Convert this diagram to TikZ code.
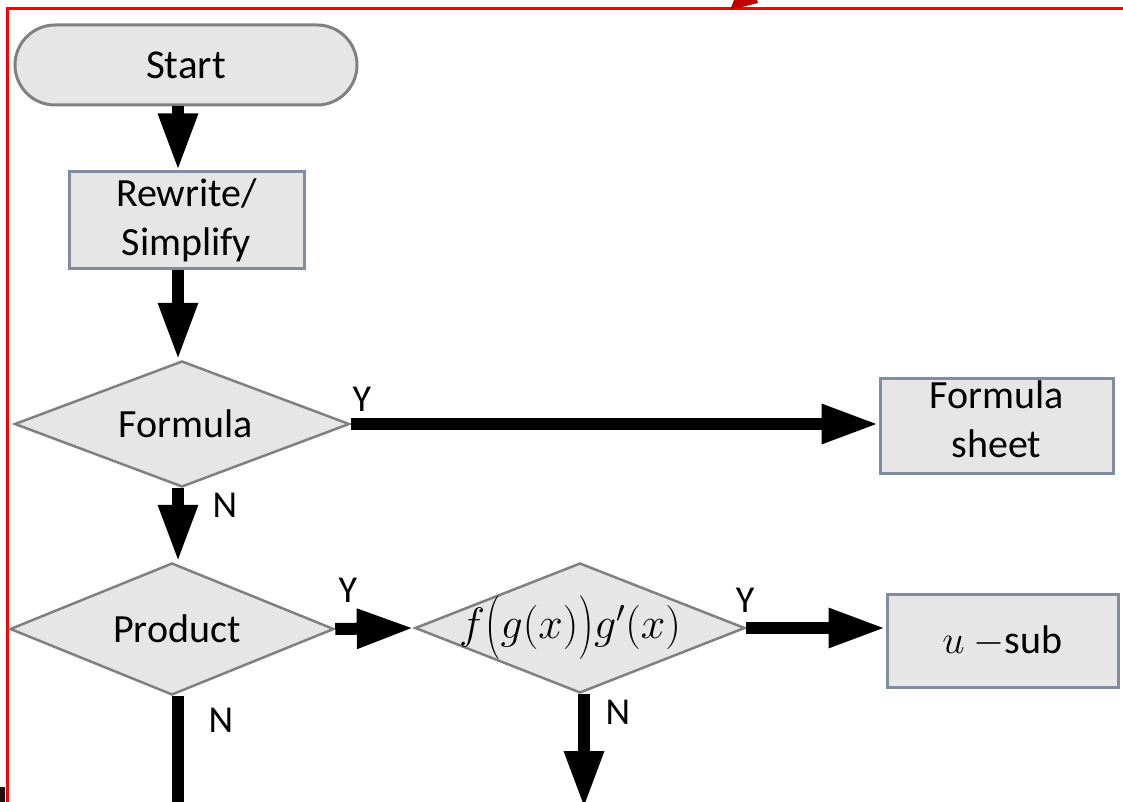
\documentclass[tikz,border=0pt]{standalone}
\usepackage{fix-cm}
\usepackage{graphicx}
\usepackage{fontspec}
\setmainfont{Carlito}
\usetikzlibrary{shapes.geometric,arrows.meta}
\definecolor{boxfill}{RGB}{230,230,230}
\definecolor{boxline}{RGB}{128,140,160}
\definecolor{dline}{RGB}{128,128,128}
\definecolor{framered}{RGB}{255,0,0}
\definecolor{darkred}{RGB}{192,0,0}
\definecolor{darkmark}{RGB}{40,15,15}
\newcommand\tallparen[1]{\raisebox{-5pt}{\scalebox{1}[1.45]{$#1$}}}
\begin{document}
\begin{tikzpicture}[x=1pt,y=-1pt,
  txt/.style={font=\fontsize{40}{49}\selectfont},
  procbox/.style={txt, align=center, rectangle, draw=boxline, fill=boxfill, line width=3pt, inner sep=0pt},
  decbox/.style={txt, diamond, draw=dline, fill=boxfill, line width=2.5pt, inner sep=0pt},
  termbox/.style={txt, rectangle, rounded corners=40pt, draw=dline, fill=boxfill, line width=3pt, inner sep=0pt},
  lbl/.style={font=\fontsize{38}{44}\selectfont, inner sep=0pt},
  flow/.style={line width=12pt, -{Triangle[length=57pt,width=37pt]}},
  plainline/.style={line width=12pt}
]
\useasboundingbox (0,0) rectangle (1123,802);
\clip (0,0) rectangle (1123,802);
\fill[white] (0,0) rectangle (1123,802);

% frame
\draw[framered, line width=3pt] (7,820) -- (7,9) -- (1130,9);
\fill[darkred] (730,10) -- (734,0) -- (757,0) -- (758,3) -- cycle;
\fill[darkmark] (0,787) rectangle (5,802);

% nodes
\node[termbox, minimum width=342pt, minimum height=80pt] (start) at (186,65) {\fontsize{41}{49}\selectfont Start};
\node[procbox, minimum width=235pt, minimum height=96pt] (rewrite) at (186.5,220) {Rewrite/\\Simplify};
\node[decbox, minimum width=335pt, minimum height=126pt] (formula) at (182,424) {\makebox[0pt]{\hspace*{8pt}Formula}};
\node[procbox, minimum width=233pt, minimum height=95pt] (sheet) at (996.5,425.5) {Formula\\[0pt]sheet\\[-37pt]\mbox{}};
\node[decbox, minimum width=324pt, minimum height=132pt] (product) at (172,629) {\makebox[0pt]{\hspace*{10pt}Product}};
\node[decbox, minimum width=330pt, minimum height=130pt] (chain) at (580,628) {\makebox[0pt]{\fontsize{44}{56}\selectfont$f\mathopen{\tallparen{(}}g(x)\mathclose{\tallparen{)}}g'(x)$\hspace*{20pt}}};
\node[procbox, minimum width=231pt, minimum height=93pt] (usub) at (1002.5,641) {$u$ $-$sub};

% connectors
\coordinate (spine) at (178,0);
\coordinate (down1) at (178,815);
\coordinate (down2) at (584,808);
\draw[flow] (start.south -| spine) -- (rewrite.north -| spine);
\draw[flow] (rewrite.south -| spine) -- (formula.north -| spine);
\draw[flow] (formula.east) -- (formula.east -| sheet.west);
\draw[flow] (formula.south -| spine) -- (product.north -| spine);
\draw[flow] (product.east) -- (chain.west);
\draw[flow] (chain.east) -- (chain.east -| usub.west);
\draw[plainline] (product.south -| spine) -- (down1);
\draw[flow] (chain.south -| down2) -- (down2);

% labels
\node[lbl] (y1) at (362,399) {Y};
\node[lbl] (n1) at (225,505) {N};
\node[lbl] (y2) at (348,590) {Y};
\node[lbl] (n2) at (221,720) {N};
\node[lbl] (y3) at (745,600) {Y};
\node[lbl] (n3) at (618,712) {N};
\end{tikzpicture}
\end{document}
